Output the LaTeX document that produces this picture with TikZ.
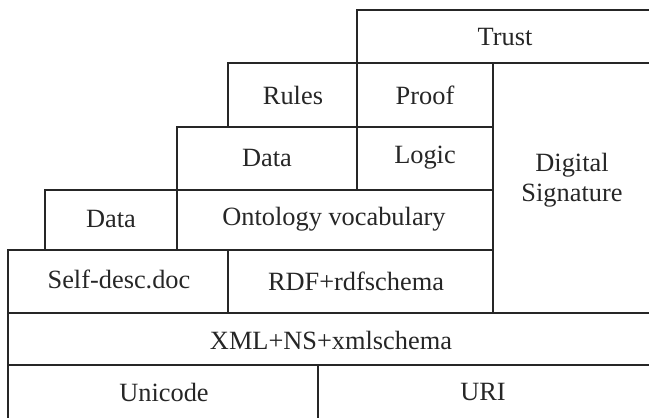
\documentclass[tikz,border=0pt]{standalone}
\usepackage{fontspec}
\setmainfont{Liberation Serif}
\begin{document}
\begin{tikzpicture}[x=0.03cm,y=-0.03cm,
  layer/.style={draw=black!85,line width=1.6pt},
  lbl/.style={font=\fontsize{22.5}{26}\selectfont,text=black!85,align=center}]
\useasboundingbox (0,0) rectangle (649,417);
\clip (0,0) rectangle (649,417);

% top of the stack
\draw[layer] (357,10) rectangle (660,63);
\draw[layer] (228,63) rectangle (357,127);
\draw[layer] (357,63) rectangle (493,127);
\draw[layer] (177,127) rectangle (357,190);
\draw[layer] (357,127) rectangle (493,190);
\draw[layer] (493,63) rectangle (660,313);

% middle layers
\draw[layer] (45,190) rectangle (177,250);
\draw[layer] (177,190) rectangle (493,250);
\draw[layer] (8,250) rectangle (228,313);
\draw[layer] (228,250) rectangle (493,313);

% base
\draw[layer] (8,313) rectangle (660,365);
\draw[layer] (8,365) rectangle (318,430);
\draw[layer] (318,365) rectangle (660,430);

\node[lbl] (trust) at (505,37) {Trust};
\node[lbl] (rules) at (293,95) {Rules};
\node[lbl] (proof) at (425,95) {Proof};
\node[lbl] (dataup) at (267,158) {Data};
\node[lbl] (logic) at (425,158) {Logic};
\node[lbl] (sig) at (572,180) {Digital\\Signature};
\node[lbl] (datalow) at (111,219) {Data};
\node[lbl] (onto) at (334,219) {Ontology vocabulary};
\node[lbl] (selfdesc) at (119,279) {Self-desc.doc};
\node[lbl] (rdf) at (356,281) {RDF+rdfschema};
\node[lbl] (xml) at (331,340) {XML+NS+xmlschema};
\node[lbl] (unicode) at (164,392) {Unicode};
\node[lbl] (uri) at (483,392) {URI};
\end{tikzpicture}
\end{document}
